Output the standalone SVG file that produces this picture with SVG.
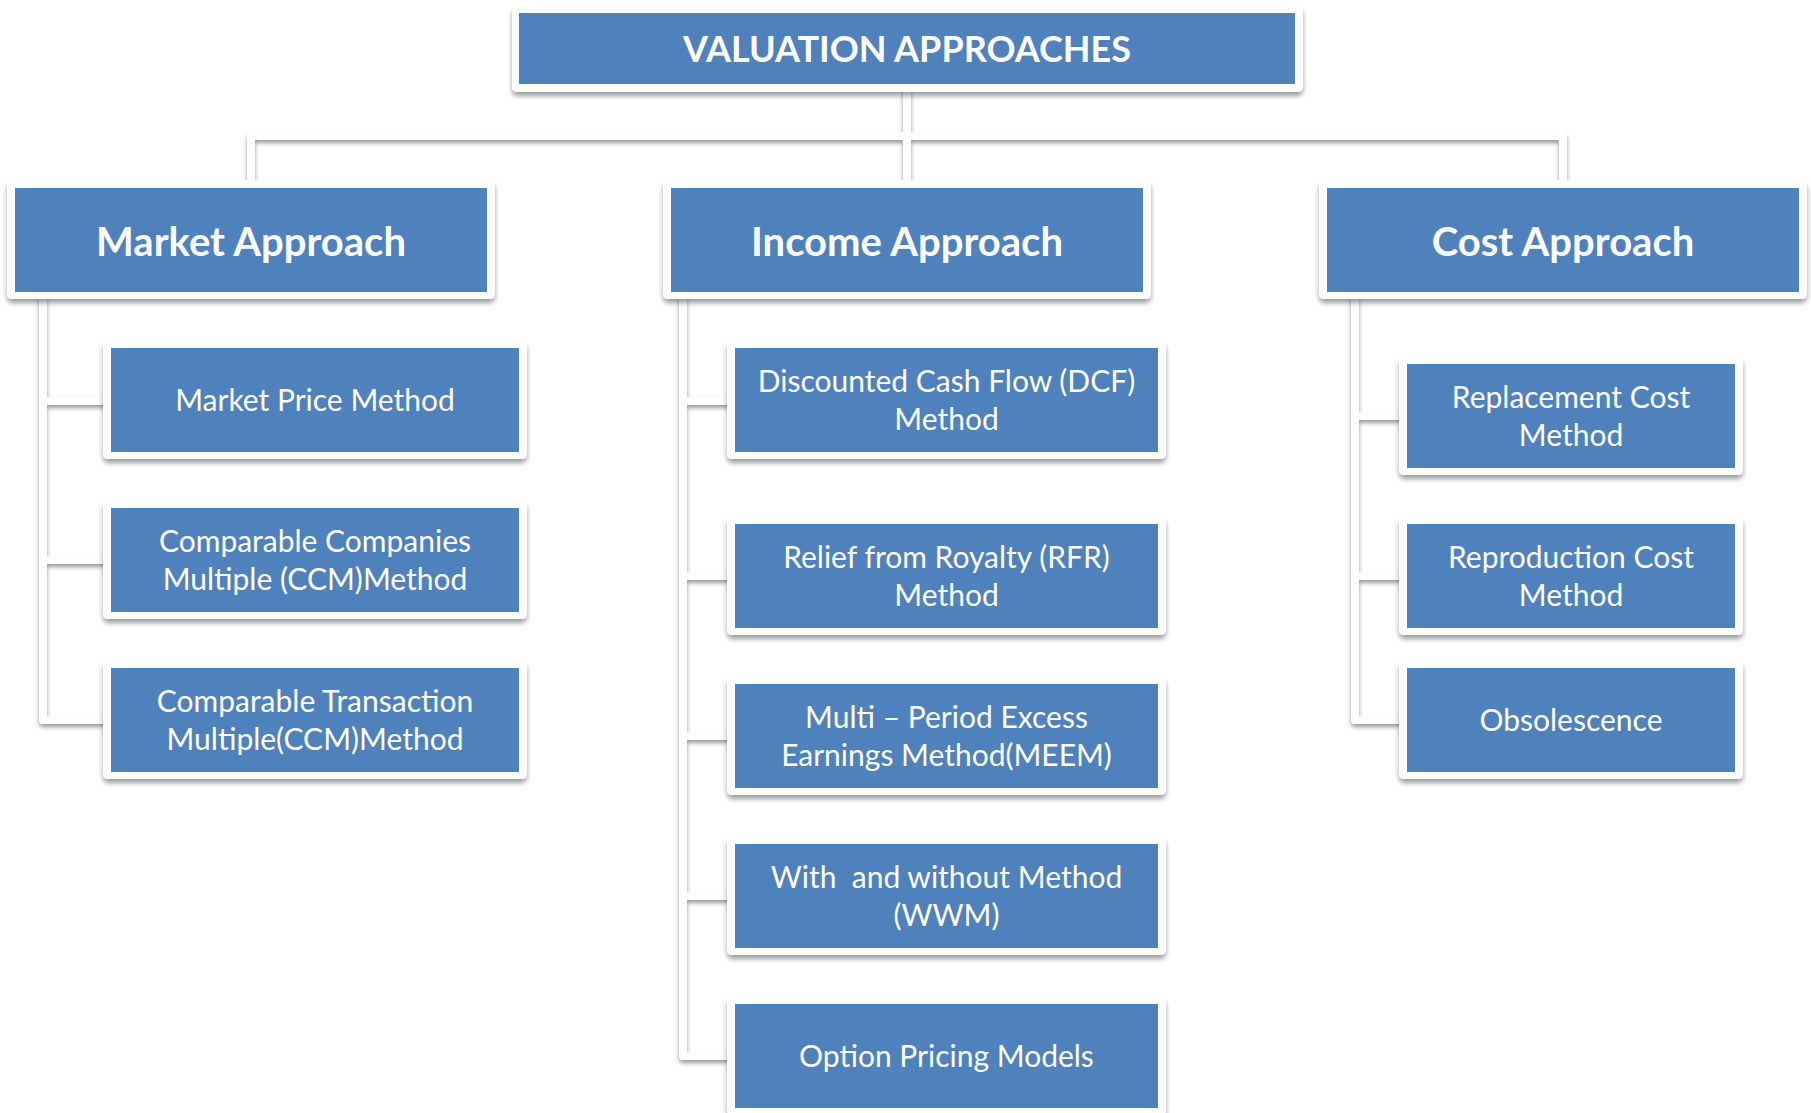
<svg xmlns="http://www.w3.org/2000/svg" width="1811" height="1113" viewBox="0 0 1811 1113">
<defs>
<filter id="sh" x="-10%" y="-10%" width="120%" height="130%">
<feDropShadow dx="0" dy="4" stdDeviation="2.5" flood-color="#000" flood-opacity="0.38"/>
</filter>
<filter id="lsh" x="-5%" y="-5%" width="110%" height="110%">
<feDropShadow dx="0" dy="3" stdDeviation="2" flood-color="#000" flood-opacity="0.4"/>
</filter>
</defs>
<style>
.frame{fill:#fff;filter:url(#sh)}
.box{fill:#4F81BD}
.t{font-family:Lato,"Liberation Sans",sans-serif;fill:#fff;text-anchor:middle}
.h1{font-size:36px;font-weight:bold}
.h2{font-size:40px;font-weight:bold}
.c{font-size:30px;white-space:pre}
.conn{fill:none;stroke:#fff;stroke-width:8;stroke-linejoin:round}
</style>
<rect width="1811" height="1113" fill="#fff"/>
<g id="connectors" filter="url(#lsh)">
<path class="conn" d="M907,88 V184"/>
<path class="conn" d="M251,184 V136 H1563 V184"/>
<path class="conn" d="M43,292 V720 H112"/>
<path class="conn" d="M43,401 H112 M43,560 H112"/>
<path class="conn" d="M683,292 V1056 H736"/>
<path class="conn" d="M683,401 H736 M683,576 H736 M683,736 H736 M683,896 H736"/>
<path class="conn" d="M1355,292 V720 H1408"/>
<path class="conn" d="M1355,416 H1408 M1355,576 H1408"/>
</g>
<g id="n-root">
<rect class="frame" x="512" y="6" width="791" height="86" rx="5"/>
<rect class="box" x="519" y="13" width="776" height="71"/>
<text class="t h1" x="907" y="62">VALUATION APPROACHES</text>
</g>
<g id="n-market">
<rect class="frame" x="7" y="180" width="488" height="119" rx="5"/>
<rect class="box" x="15" y="188" width="472" height="104"/>
<text class="t h2" x="251" y="256">Market Approach</text>
</g>
<g id="n-income">
<rect class="frame" x="663" y="180" width="488" height="119" rx="5"/>
<rect class="box" x="671" y="188" width="472" height="104"/>
<text class="t h2" x="907" y="256">Income Approach</text>
</g>
<g id="n-cost">
<rect class="frame" x="1319" y="180" width="488" height="119" rx="5"/>
<rect class="box" x="1327" y="188" width="472" height="104"/>
<text class="t h2" x="1563" y="256">Cost Approach</text>
</g>
<g id="n-market-price">
<rect class="frame" x="103" y="341" width="424" height="118" rx="5"/>
<rect class="box" x="111" y="348" width="408" height="104"/>
<text class="t c" x="315" y="411">Market Price Method</text>
</g>
<g id="n-ccm">
<rect class="frame" x="103" y="501" width="424" height="118" rx="5"/>
<rect class="box" x="111" y="508" width="408" height="104"/>
<text class="t c" x="315" y="552">Comparable Companies</text>
<text class="t c" x="315" y="590">Multiple (CCM)Method</text>
</g>
<g id="n-ctm">
<rect class="frame" x="103" y="661" width="424" height="118" rx="5"/>
<rect class="box" x="111" y="668" width="408" height="104"/>
<text class="t c" x="315" y="712">Comparable Transaction</text>
<text class="t c" x="315" y="750">Multiple(CCM)Method</text>
</g>
<g id="n-dcf">
<rect class="frame" x="727" y="341" width="439" height="118" rx="5"/>
<rect class="box" x="735" y="348" width="423" height="104"/>
<text class="t c" x="946.5" y="392">Discounted Cash Flow (DCF)</text>
<text class="t c" x="946.5" y="430">Method</text>
</g>
<g id="n-rfr">
<rect class="frame" x="727" y="517" width="439" height="118" rx="5"/>
<rect class="box" x="735" y="524" width="423" height="104"/>
<text class="t c" x="946.5" y="568">Relief from Royalty (RFR)</text>
<text class="t c" x="946.5" y="606">Method</text>
</g>
<g id="n-meem">
<rect class="frame" x="727" y="677" width="439" height="118" rx="5"/>
<rect class="box" x="735" y="684" width="423" height="104"/>
<text class="t c" x="946.5" y="728">Multi – Period Excess</text>
<text class="t c" x="946.5" y="766">Earnings Method(MEEM)</text>
</g>
<g id="n-wwm">
<rect class="frame" x="727" y="837" width="439" height="118" rx="5"/>
<rect class="box" x="735" y="844" width="423" height="104"/>
<text class="t c" x="946.5" y="888">With  and without Method</text>
<text class="t c" x="946.5" y="926">(WWM)</text>
</g>
<g id="n-option">
<rect class="frame" x="727" y="997" width="439" height="118" rx="5"/>
<rect class="box" x="735" y="1004" width="423" height="104"/>
<text class="t c" x="946.5" y="1067">Option Pricing Models</text>
</g>
<g id="n-replacement">
<rect class="frame" x="1399" y="357" width="344" height="118" rx="5"/>
<rect class="box" x="1407" y="364" width="328" height="104"/>
<text class="t c" x="1571" y="408">Replacement Cost</text>
<text class="t c" x="1571" y="446">Method</text>
</g>
<g id="n-reproduction">
<rect class="frame" x="1399" y="517" width="344" height="118" rx="5"/>
<rect class="box" x="1407" y="524" width="328" height="104"/>
<text class="t c" x="1571" y="568">Reproduction Cost</text>
<text class="t c" x="1571" y="606">Method</text>
</g>
<g id="n-obsolescence">
<rect class="frame" x="1399" y="661" width="344" height="118" rx="5"/>
<rect class="box" x="1407" y="668" width="328" height="104"/>
<text class="t c" x="1571" y="731">Obsolescence</text>
</g>
</svg>
